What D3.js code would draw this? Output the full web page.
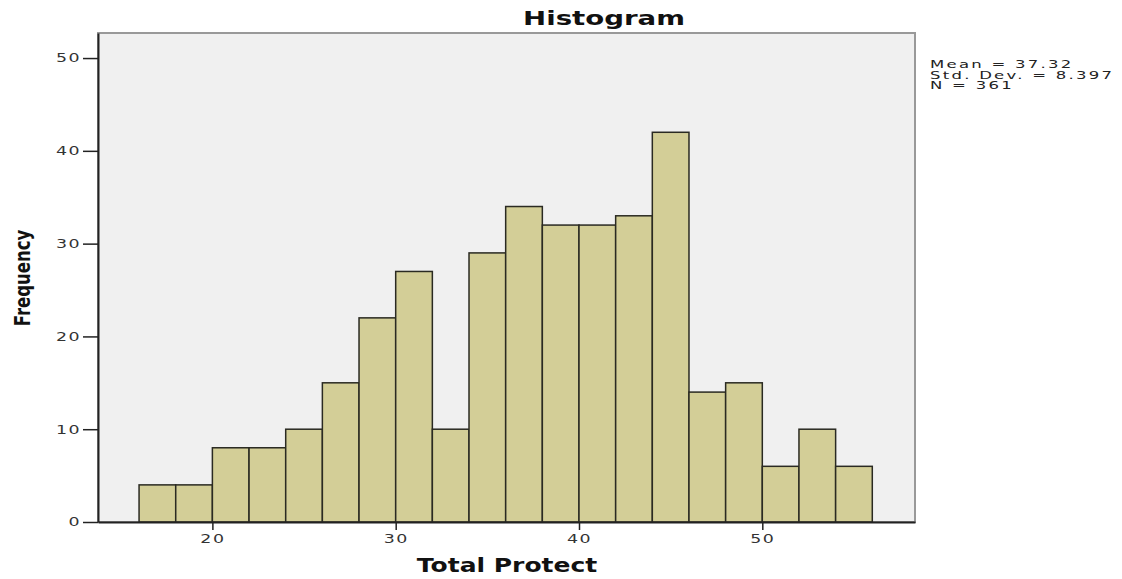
<!DOCTYPE html>
<html>
<head>
<meta charset="utf-8">
<script src="https://cdn.jsdelivr.net/npm/d3@7"></script>
<style>
  body { margin: 0; background: #fff; }
  text { font-family: "DejaVu Sans", sans-serif; }
</style>
</head>
<body>
<svg id="chart" width="1122" height="579"></svg>
<script>
// bin edges (left edge of each bar) and counts
const binStarts = [16, 18, 20, 22, 24, 26, 28, 30, 32, 34, 36, 38, 40, 42, 44, 46, 48, 50, 52, 54];
const counts = [4, 4, 8, 8, 10, 15, 22, 27, 10, 29, 34, 32, 32, 33, 42, 14, 15, 6, 10, 6];
const binWidth = 2;
const xTicks = [20, 30, 40, 50];
const yTicks = [0, 10, 20, 30, 40, 50];
const statsLines = ['Mean = 37.32', 'Std. Dev. = 8.397', 'N = 361'];

const plotLeft = 98, plotRight = 915, plotTop = 33, plotBottom = 522;
const wide = 1.45; // SPSS text is drawn horizontally stretched

const svg = d3.select('#chart');

const x = d3.scaleLinear().domain([13.76, 58.33]).range([plotLeft, plotRight]);
const y = d3.scaleLinear().domain([0, 52.7]).range([plotBottom, plotTop]);

// plot background + frame
svg.append('rect')
  .attr('x', plotLeft).attr('y', plotTop)
  .attr('width', plotRight - plotLeft).attr('height', plotBottom - plotTop)
  .attr('fill', '#f0f0f0')
  .attr('stroke', '#999')
  .attr('stroke-width', 2);

// bars
svg.append('g')
  .selectAll('rect')
  .data(binStarts)
  .enter()
  .append('rect')
  .attr('x', (d) => x(d))
  .attr('y', (d, i) => y(counts[i]))
  .attr('width', (d) => x(d + binWidth) - x(d))
  .attr('height', (d, i) => plotBottom - y(counts[i]))
  .attr('fill', '#d3ce97')
  .attr('stroke', '#2a2a22')
  .attr('stroke-width', 1.5);

// axes
const yAxis = svg.append('g')
  .attr('transform', `translate(${plotLeft},0)`)
  .call(d3.axisLeft(y).tickValues(yTicks).tickSize(15).tickSizeOuter(0));
const xAxis = svg.append('g')
  .attr('transform', `translate(0,${plotBottom})`)
  .call(d3.axisBottom(x).tickValues(xTicks).tickSize(8).tickSizeOuter(0));

[yAxis, xAxis].forEach((g) => {
  g.select('.domain').attr('stroke', '#222').attr('stroke-width', 2);
  g.selectAll('.tick line').attr('stroke', '#222').attr('stroke-width', 1.5);
  g.selectAll('.tick text')
    .attr('font-family', '"DejaVu Sans", sans-serif')
    .attr('font-size', 12)
    .attr('letter-spacing', 1)
    .attr('fill', '#333')
    .attr('transform', `scale(${wide},1)`);
});
yAxis.selectAll('.tick text').attr('x', -17 / wide);
xAxis.selectAll('.tick text').attr('y', 12).attr('x', 0);

// title
svg.append('text')
  .attr('transform', 'translate(604,25) scale(1.38,1)')
  .attr('text-anchor', 'middle')
  .attr('font-size', 20).attr('font-weight', 'bold')
  .attr('fill', '#111')
  .text('Histogram');

// axis titles
svg.append('text')
  .attr('transform', 'translate(507,572) scale(1.25,1)')
  .attr('text-anchor', 'middle')
  .attr('font-size', 20).attr('font-weight', 'bold')
  .attr('fill', '#111')
  .text('Total Protect');

svg.append('text')
  .attr('transform', 'translate(30,278) rotate(-90) scale(0.75,1)')
  .attr('text-anchor', 'middle')
  .attr('font-family', '"Liberation Sans Narrow", "DejaVu Sans Condensed", sans-serif')
  .attr('font-size', 22).attr('font-weight', 'bold')
  .attr('fill', '#111')
  .text('Frequency');

// stats box
svg.append('g')
  .selectAll('text')
  .data(statsLines)
  .enter()
  .append('text')
  .attr('transform', (d, i) => `translate(930,${68 + i * 10.5}) scale(1.5,1)`)
  .attr('font-size', 11)
  .attr('letter-spacing', 1.5)
  .attr('fill', '#222')
  .text((d) => d);
</script>
</body>
</html>
